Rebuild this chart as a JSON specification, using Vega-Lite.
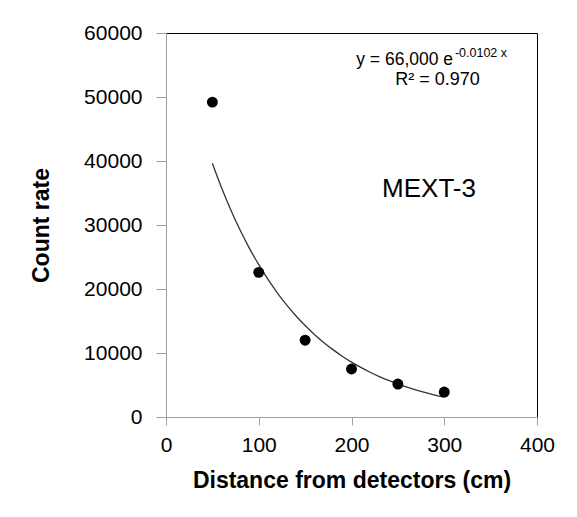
{
  "$schema": "https://vega.github.io/schema/vega-lite/v6.json",
  "width": 371,
  "height": 384,
  "autosize": "none",
  "padding": {"left": 166, "top": 33, "right": 40, "bottom": 100},
  "background": "white",
  "config": {
    "view": {"stroke": "#000000", "strokeWidth": 1},
    "font": "Liberation Sans",
    "axis": {
      "grid": false,
      "domainColor": "#a0a0a0",
      "tickColor": "#a0a0a0",
      "labelFont": "Liberation Sans",
      "labelFontSize": 21,
      "labelColor": "#000000",
      "titleFont": "Liberation Sans",
      "titleFontSize": 23,
      "titleFontWeight": "bold",
      "titleColor": "#000000"
    }
  },
  "datasets": {
    "obs": [
      {"d": 50, "c": 49200},
      {"d": 100, "c": 22600},
      {"d": 150, "c": 12000},
      {"d": 200, "c": 7500},
      {"d": 250, "c": 5150},
      {"d": 300, "c": 3900}
    ],
    "fit": [
      {"d": 50, "c": 39633}, {"d": 60, "c": 35790}, {"d": 70, "c": 32319},
      {"d": 80, "c": 29185}, {"d": 90, "c": 26355}, {"d": 100, "c": 23799},
      {"d": 110, "c": 21491}, {"d": 120, "c": 19407}, {"d": 130, "c": 17525},
      {"d": 140, "c": 15826}, {"d": 150, "c": 14291}, {"d": 160, "c": 12906},
      {"d": 170, "c": 11654}, {"d": 180, "c": 10524}, {"d": 190, "c": 9503},
      {"d": 200, "c": 8582}, {"d": 210, "c": 7750}, {"d": 220, "c": 6998},
      {"d": 230, "c": 6320}, {"d": 240, "c": 5707}, {"d": 250, "c": 5153},
      {"d": 260, "c": 4654}, {"d": 270, "c": 4202}, {"d": 280, "c": 3795},
      {"d": 290, "c": 3427}, {"d": 300, "c": 3094}
    ],
    "eqMain": [{"d": 309.5, "c": 55000, "t": "y = 66,000 e"}],
    "eqSup": [{"d": 311.5, "c": 56200, "t": "-0.0102 x"}],
    "eqR2": [{"d": 292.7, "c": 51900, "t": "R² = 0.970"}],
    "lab": [{"d": 283.6, "c": 34375, "t": "MEXT-3"}]
  },
  "layer": [
    {
      "data": {"name": "fit"},
      "mark": {"type": "line", "color": "#333333", "strokeWidth": 1.3, "interpolate": "monotone"},
      "encoding": {
        "x": {
          "field": "d", "type": "quantitative",
          "scale": {"domain": [0, 400], "nice": false, "zero": true},
          "axis": {"values": [0, 100, 200, 300, 400], "title": "Distance from detectors (cm)", "tickSize": 8, "labelPadding": 9, "titlePadding": 14, "labelFlush": false}
        },
        "y": {
          "field": "c", "type": "quantitative",
          "scale": {"domain": [0, 60000], "nice": false},
          "axis": {"values": [0, 10000, 20000, 30000, 40000, 50000, 60000], "format": "d", "title": "Count rate", "tickSize": 10, "labelPadding": 14, "titlePadding": 30}
        }
      }
    },
    {
      "data": {"name": "obs"},
      "mark": {"type": "point", "filled": true, "color": "#000000", "size": 120, "opacity": 1},
      "encoding": {
        "x": {"field": "d", "type": "quantitative"},
        "y": {"field": "c", "type": "quantitative"}
      }
    },
    {
      "data": {"name": "eqMain"},
      "mark": {"type": "text", "align": "right", "baseline": "alphabetic", "fontSize": 17.5, "color": "#000000", "font": "Liberation Sans"},
      "encoding": {
        "x": {"field": "d", "type": "quantitative"},
        "y": {"field": "c", "type": "quantitative"},
        "text": {"field": "t"}
      }
    },
    {
      "data": {"name": "eqSup"},
      "mark": {"type": "text", "align": "left", "baseline": "alphabetic", "fontSize": 12.5, "color": "#000000", "font": "Liberation Sans"},
      "encoding": {
        "x": {"field": "d", "type": "quantitative"},
        "y": {"field": "c", "type": "quantitative"},
        "text": {"field": "t"}
      }
    },
    {
      "data": {"name": "eqR2"},
      "mark": {"type": "text", "align": "center", "baseline": "alphabetic", "fontSize": 18, "color": "#000000", "font": "Liberation Sans"},
      "encoding": {
        "x": {"field": "d", "type": "quantitative"},
        "y": {"field": "c", "type": "quantitative"},
        "text": {"field": "t"}
      }
    },
    {
      "data": {"name": "lab"},
      "mark": {"type": "text", "align": "center", "baseline": "alphabetic", "fontSize": 26, "color": "#000000", "font": "Liberation Sans"},
      "encoding": {
        "x": {"field": "d", "type": "quantitative"},
        "y": {"field": "c", "type": "quantitative"},
        "text": {"field": "t"}
      }
    }
  ]
}
